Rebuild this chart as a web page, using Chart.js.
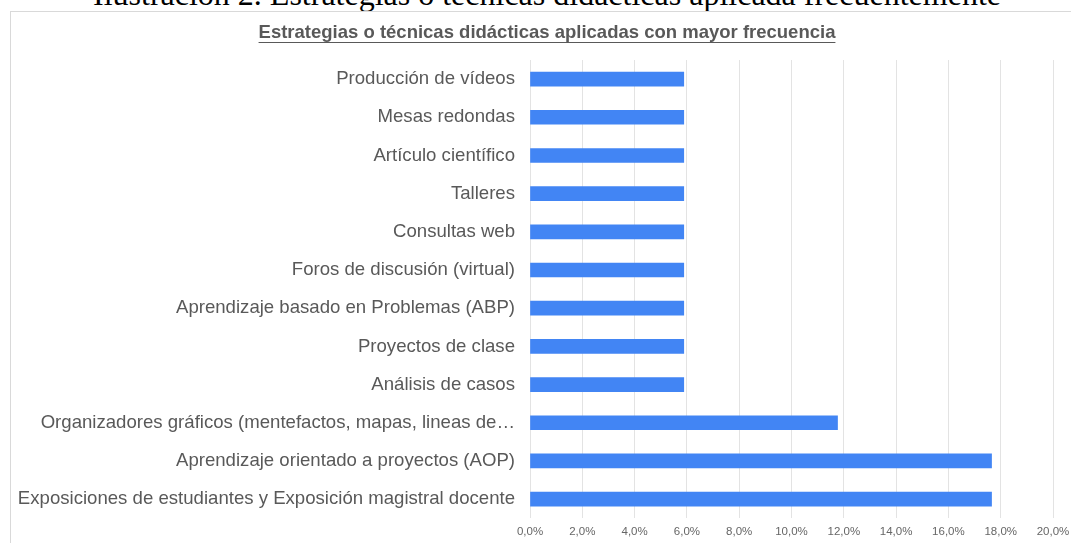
<!DOCTYPE html>
<html>
<head>
<meta charset="utf-8">
<script src="https://cdn.jsdelivr.net/npm/chart.js@4"></script>
<style>
  body { margin: 0; width: 1071px; height: 543px; overflow: hidden; background: #fff; position: relative; }
  #caption {
    position: absolute; left: 0; width: 1094px; top: -21px;
    text-align: center; font-family: "Liberation Serif", "Times New Roman", serif;
    font-size: 32px; line-height: 30px; color: #000; white-space: nowrap;
  }
  #box {
    position: absolute; left: 10px; top: 11px; width: 1074px; height: 560px;
    border: 1px solid #d9d9d9; background: #fff;
  }
  #wrap { position: absolute; left: 0; top: 0; width: 1074px; height: 538px; }
</style>
</head>
<body>
<div id="caption">Ilustración 2. Estrategias o técnicas didácticas aplicada frecuentemente</div>
<div id="box">
  <div id="wrap"><canvas id="chart"></canvas></div>
</div>
<script>
// Datos (porcentaje de menciones)
const chartTitle = "Estrategias o técnicas didácticas aplicadas con mayor frecuencia";
const categories = [
  "Producción de vídeos",
  "Mesas redondas",
  "Artículo científico",
  "Talleres",
  "Consultas web",
  "Foros de discusión (virtual)",
  "Aprendizaje basado en Problemas (ABP)",
  "Proyectos de clase",
  "Análisis de casos",
  "Organizadores gráficos (mentefactos, mapas, lineas de…",
  "Aprendizaje orientado a proyectos (AOP)",
  "Exposiciones de estudiantes y Exposición magistral docente",
];
const values = [5.88, 5.88, 5.88, 5.88, 5.88, 5.88, 5.88, 5.88, 5.88, 11.76, 17.65, 17.65];
const xTicks = [0, 2, 4, 6, 8, 10, 12, 14, 16, 18, 20];

// título subrayado (centrado en el recuadro)
const underlinedTitle = {
  id: "underlinedTitle",
  afterDraw(chart) {
    const ctx = chart.ctx;
    const cx = 536;
    const y = 26;
    ctx.save();
    ctx.font = "bold 18.5px 'Liberation Sans', Arial, sans-serif";
    ctx.fillStyle = "#595959";
    ctx.textAlign = "center";
    ctx.textBaseline = "alphabetic";
    ctx.fillText(chartTitle, cx, y);
    const w = ctx.measureText(chartTitle).width;
    ctx.strokeStyle = "#595959";
    ctx.lineWidth = 1.2;
    ctx.beginPath();
    ctx.moveTo(cx - w / 2, y + 4.5);
    ctx.lineTo(cx + w / 2, y + 4.5);
    ctx.stroke();
    ctx.restore();
  },
};

const ctx = document.getElementById("chart").getContext("2d");
new Chart(ctx, {
  type: "bar",
  data: {
    labels: categories,
    datasets: [
      {
        data: values,
        backgroundColor: "#4285f4",
        barThickness: 14,
      },
    ],
  },
  options: {
    indexAxis: "y",
    responsive: true,
    maintainAspectRatio: false,
    animation: false,
    layout: { padding: { top: 48, right: 32, bottom: 4, left: 0 } },
    plugins: {
      legend: { display: false },
      tooltip: { enabled: false },
      title: { display: false },
    },
    scales: {
      x: {
        min: 0,
        max: 20,
        afterBuildTicks: (scale) => {
          scale.ticks = xTicks.map((v) => ({ value: v }));
        },
        ticks: {
          color: "#666",
          font: { family: "'Liberation Sans', Arial, sans-serif", size: 11.5 },
          padding: 7,
          callback: (v) => v.toFixed(1).replace(".", ",") + "%",
        },
        grid: { color: "#e3e3e3", drawTicks: false },
        border: { display: false },
      },
      y: {
        afterFit: (scale) => {
          scale.width = 519;
        },
        ticks: {
          color: "#595959",
          font: { family: "'Liberation Sans', Arial, sans-serif", size: 18.6 },
          padding: 15,
        },
        grid: { display: false, drawTicks: false },
        border: { display: false },
      },
    },
  },
  plugins: [underlinedTitle],
});
</script>
</body>
</html>
